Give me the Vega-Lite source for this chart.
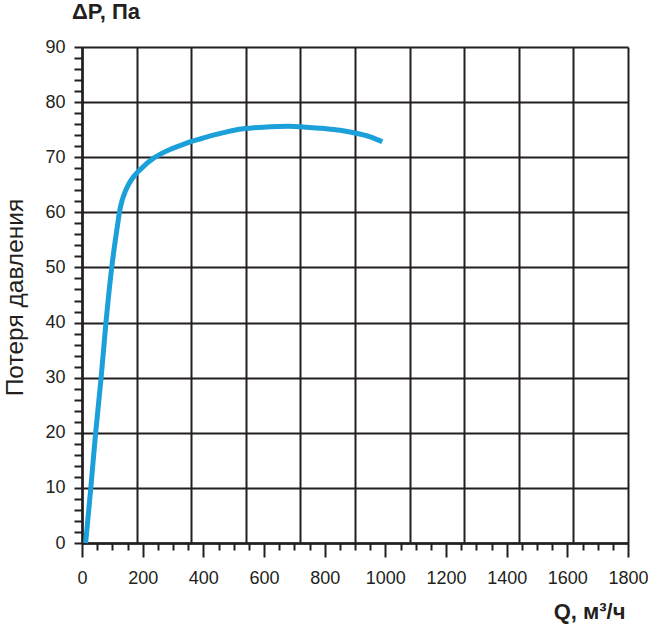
{
  "$schema": "https://vega.github.io/schema/vega-lite/v6.json",
  "width": 546,
  "height": 496,
  "autosize": "none",
  "padding": {"left": 82, "top": 47, "right": 20, "bottom": 82},
  "background": "white",
  "title": {"text": "ΔP, Па", "anchor": "start", "frame": "group", "font": "Liberation Sans", "fontSize": 22, "fontWeight": "bold", "color": "#231f20", "offset": 14, "dx": -10},
  "config": {"view": {"stroke": null}},
  "data": {"values": [
    {"Q": 12, "P": 0},
    {"Q": 29, "P": 10},
    {"Q": 45, "P": 20},
    {"Q": 63, "P": 30},
    {"Q": 79, "P": 40},
    {"Q": 98, "P": 50},
    {"Q": 110, "P": 55},
    {"Q": 118, "P": 58},
    {"Q": 125, "P": 60.5},
    {"Q": 133, "P": 62.3},
    {"Q": 142, "P": 63.7},
    {"Q": 153, "P": 65},
    {"Q": 164, "P": 66},
    {"Q": 180, "P": 67.1},
    {"Q": 191, "P": 67.7},
    {"Q": 212, "P": 68.8},
    {"Q": 235, "P": 69.8},
    {"Q": 260, "P": 70.6},
    {"Q": 290, "P": 71.4},
    {"Q": 323, "P": 72.1},
    {"Q": 356, "P": 72.8},
    {"Q": 395, "P": 73.4},
    {"Q": 433, "P": 74.0},
    {"Q": 470, "P": 74.5},
    {"Q": 510, "P": 75.0},
    {"Q": 560, "P": 75.3},
    {"Q": 620, "P": 75.55},
    {"Q": 680, "P": 75.6},
    {"Q": 740, "P": 75.45},
    {"Q": 800, "P": 75.2},
    {"Q": 850, "P": 74.9},
    {"Q": 900, "P": 74.4},
    {"Q": 950, "P": 73.7},
    {"Q": 990, "P": 72.8}
  ]},
  "layer": [
    {
      "mark": {"type": "line", "strokeOpacity": 0},
      "encoding": {
        "x": {"field": "Q", "type": "quantitative", "scale": {"domain": [0, 1800], "nice": false, "zero": false},
          "axis": {"orient": "bottom", "values": [0, 180, 360, 540, 720, 900, 1080, 1260, 1440, 1620, 1800], "labels": false, "ticks": false, "domain": false, "title": null, "grid": true, "gridColor": "#231f20", "gridWidth": 2, "gridOpacity": 1}},
        "y": {"field": "P", "type": "quantitative", "scale": {"domain": [0, 90], "nice": false}, "axis": null}
      }
    },
    {
      "mark": {"type": "line", "color": "#1ba0da", "strokeWidth": 5, "interpolate": "monotone"},
      "encoding": {
        "x": {"field": "Q", "type": "quantitative",
          "axis": {
            "orient": "bottom",
            "values": [0,50,100,150,200,250,300,350,400,450,500,550,600,650,700,750,800,850,900,950,1000,1050,1100,1150,1200,1250,1300,1350,1400,1450,1500,1550,1600,1650,1700,1750,1800],
            "labelExpr": "datum.value % 200 === 0 ? datum.label : ''",
            "format": "d",
            "grid": false,
            "domain": true, "domainColor": "#231f20", "domainWidth": 2.5,
            "tickColor": "#231f20", "tickWidth": 2,
            "tickSize": {"condition": {"test": "datum.value % 200 === 0", "value": 14}, "value": 7},
            "labelPadding": 12,
            "labelFont": "Liberation Sans", "labelFontSize": 18, "labelColor": "#231f20",
            "labelOverlap": false, "labelFlush": false,
            "title": "Q, м³/ч", "titleFont": "Liberation Sans", "titleFontSize": 22, "titleFontWeight": "bold",
            "titleColor": "#231f20", "titleAnchor": "end", "titleAlign": "right", "titleX": 543, "titlePadding": 14
          }},
        "y": {"field": "P", "type": "quantitative",
          "axis": {
            "values": [0,2,4,6,8,10,12,14,16,18,20,22,24,26,28,30,32,34,36,38,40,42,44,46,48,50,52,54,56,58,60,62,64,66,68,70,72,74,76,78,80,82,84,86,88,90],
            "labelExpr": "datum.value % 10 === 0 ? datum.label : ''",
            "grid": true, "gridColor": "#231f20", "gridWidth": 2,
            "gridOpacity": {"condition": {"test": "datum.value % 10 === 0", "value": 1}, "value": 0},
            "domain": true, "domainColor": "#231f20", "domainWidth": 2.5,
            "tickColor": "#231f20", "tickWidth": 2, "tickSize": 8,
            "labelPadding": 9,
            "labelFont": "Liberation Sans", "labelFontSize": 18, "labelColor": "#231f20",
            "labelOverlap": false, "labelFlush": false,
            "title": "Потеря давления", "titleFont": "Liberation Sans", "titleFontSize": 24.5, "titleFontWeight": "normal",
            "titleColor": "#231f20", "titlePadding": 17, "titleY": 250
          }}
      }
    }
  ],
  "resolve": {"axis": {"x": "independent", "y": "independent"}}
}
